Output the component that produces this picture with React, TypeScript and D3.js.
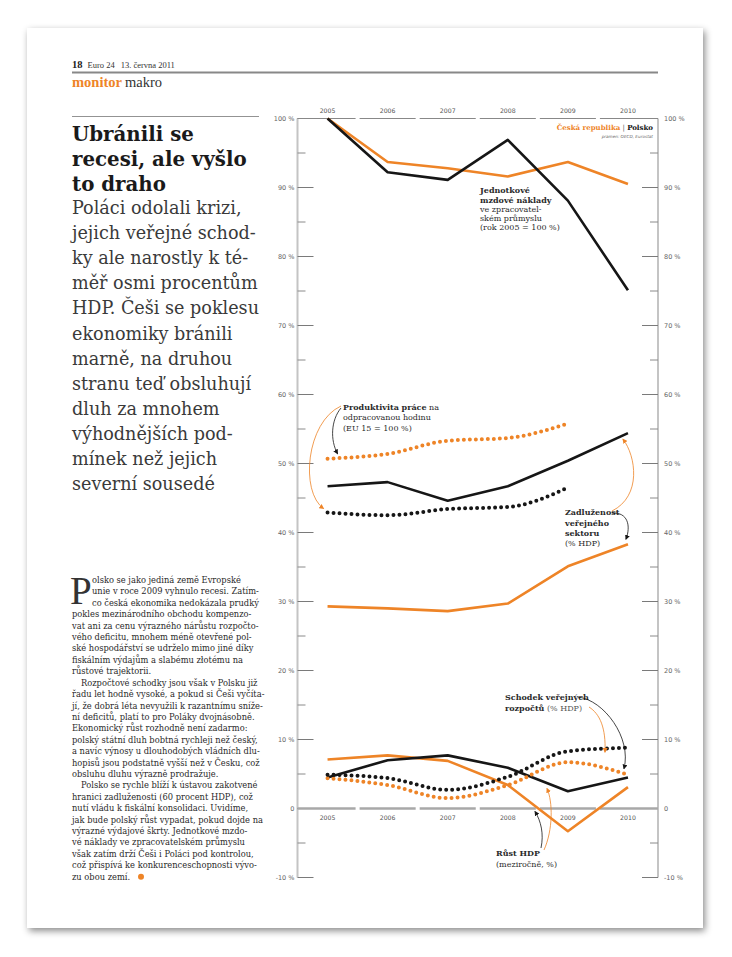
import React from "react";
import * as d3 from "d3";

// years on the x axis
const years = [2005, 2006, 2007, 2008, 2009, 2010];
const productivityYears = [2005, 2006, 2007, 2008, 2009];

// Jednotkové mzdové náklady (2005 = 100 %)
const laborCostCZ = [100, 93.7, 92.8, 91.6, 93.7, 90.5];
const laborCostPL = [100, 92.2, 91.1, 96.9, 88.1, 75.1];

// Produktivita práce (EU 15 = 100 %)
const productivityCZ = [50.7, 51.4, 53.3, 53.7, 55.8];
const productivityPL = [42.9, 42.5, 43.4, 43.7, 46.5];

// Zadluženost veřejného sektoru (% HDP)
const debtCZ = [29.3, 29.0, 28.6, 29.7, 35.1, 38.3];
const debtPL = [46.7, 47.3, 44.6, 46.7, 50.4, 54.4];

// Schodek veřejných rozpočtů (% HDP)
const deficitCZ = [4.4, 3.4, 1.5, 3.4, 6.7, 4.9];
const deficitPL = [4.9, 4.4, 2.7, 4.6, 8.3, 8.8];

// Růst HDP (meziročně, %)
const gdpCZ = [7.1, 7.7, 6.9, 3.4, -3.3, 3.1];
const gdpPL = [4.5, 7.0, 7.7, 5.9, 2.5, 4.5];

const majorTicks = [-10, 0, 10, 20, 30, 40, 50, 60, 70, 80, 90, 100];
const minorTicks = [-5, 5, 15, 25, 35, 45, 55, 65, 75, 85, 95];

const headline = ["Ubránili se", "recesi, ale vyšlo", "to draho"];
const standfirst = [
  "Poláci odolali krizi,",
  "jejich veřejné schod-",
  "ky ale narostly k té-",
  "měř osmi procentům",
  "HDP. Češi se poklesu",
  "ekonomiky bránili",
  "marně, na druhou",
  "stranu teď obsluhují",
  "dluh za mnohem",
  "výhodnějších pod-",
  "mínek než jejich",
  "severní sousedé",
];
const bodyLines = [
  "olsko se jako jediná země Evropské",
  "unie v roce 2009 vyhnulo recesi. Zatím-",
  "co česká ekonomika nedokázala prudký",
  "pokles mezinárodního obchodu kompenzo-",
  "vat ani za cenu výrazného nárůstu rozpočto-",
  "vého deficitu, mnohem méně otevřené pol-",
  "ské hospodářství se udrželo mimo jiné díky",
  "fiskálním výdajům a slabému złotému na",
  "růstové trajektorii.",
  "Rozpočtové schodky jsou však v Polsku již",
  "řadu let hodně vysoké, a pokud si Češi vyčíta-",
  "jí, že dobrá léta nevyužili k razantnímu sníže-",
  "ní deficitů, platí to pro Poláky dvojnásobně.",
  "Ekonomický růst rozhodně není zadarmo:",
  "polský státní dluh bobtná rychleji než český,",
  "a navíc výnosy u dlouhodobých vládních dlu-",
  "hopisů jsou podstatně vyšší než v Česku, což",
  "obsluhu dluhu výrazně prodražuje.",
  "Polsko se rychle blíží k ústavou zakotvené",
  "hranici zadluženosti (60 procent HDP), což",
  "nutí vládu k fiskální konsolidaci. Uvidíme,",
  "jak bude polský růst vypadat, pokud dojde na",
  "výrazné výdajové škrty. Jednotkové mzdo-",
  "vé náklady ve zpracovatelském průmyslu",
  "však zatím drží Češi i Poláci pod kontrolou,",
  "což přispívá ke konkurenceschopnosti vývo-",
  "zu obou zemí.",
];
const indentedLines = [9, 18];

const ORANGE = "#ee8427";
const BLACK = "#161616";
const SERIF = "'DejaVu Serif', serif";
const HEAD = "'Liberation Serif', serif";
const SANS = "'DejaVu Sans', sans-serif";

export default function App() {
  const axisL = 297.5;
  const axisR = 658;
  const x = d3.scalePoint<number>().domain(years).range([axisL, axisR]).padding(0.5);
  const y = d3.scaleLinear().domain([-10, 100]).range([877.5, 118.5]);
  const step = x.step();
  const px = (yr: number) => x(yr) as number;

  const straight = (yrs: number[]) =>
    d3.line<number>().x((_, i) => px(yrs[i])).y((d) => y(d));
  const smooth = (yrs: number[]) =>
    d3.line<number>().x((_, i) => px(yrs[i])).y((d) => y(d)).curve(d3.curveMonotoneX);

  const solid = [
    { d: laborCostCZ, c: ORANGE },
    { d: laborCostPL, c: BLACK },
    { d: debtCZ, c: ORANGE },
    { d: debtPL, c: BLACK },
    { d: gdpCZ, c: ORANGE },
    { d: gdpPL, c: BLACK },
  ];
  const dotted = [
    { d: productivityCZ, c: ORANGE, yrs: productivityYears },
    { d: productivityPL, c: BLACK, yrs: productivityYears },
    { d: deficitCZ, c: ORANGE, yrs: years },
    { d: deficitPL, c: BLACK, yrs: years },
  ];

  const bands = years.map((yr, i) => ({
    yr,
    x0: i === 0 ? axisL : px(yr) - step / 2 + 2,
    x1: i === years.length - 1 ? axisR : px(yr) + step / 2 - 2,
  }));

  // anchor points for annotation arrows
  const x05 = px(2005);
  const x10 = px(2010);
  const arrows = [
    { c: BLACK, d: `M341,408 C331,420 330,440 ${x05 + 10},${y(50.7) - 5}` },
    { c: ORANGE, d: `M341,406 C306,422 300,492 ${x05 - 4},${y(42.9) - 4}` },
    { c: BLACK, d: `M612,513 C628,512 631,526 ${x10 - 2},${y(38.3) - 5}` },
    { c: ORANGE, d: `M612,511 C642,496 636,456 ${x10 - 5},${y(54.4) + 6}` },
    { c: BLACK, d: `M578,697 C604,700 632,738 ${x10 - 4},${y(4.9) - 6}` },
    { c: ORANGE, d: `M589,707 C600,714 606,728 605,${y(8.6) + 3}` },
    { c: BLACK, d: `M541,848 C544,834 541,821 535,${y(0) + 3}` },
    { c: ORANGE, d: `M544,850 C553,830 553,802 547,${y(3.2) + 2}` },
  ];

  const fmt = (v: number) => (v === 0 ? "0" : `${v} %`);
  const bodyY0 = 583;
  const bodyLH = 11.41;

  return (
    <svg
      width={732}
      height={957}
      viewBox="0 0 732 957"
      style={{ position: "absolute", left: 0, top: 0, background: "#fff" }}
    >
      <defs>
        <filter id="shadow" x="-5%" y="-5%" width="110%" height="110%">
          <feDropShadow dx="2" dy="3" stdDeviation="3.5" floodColor="#000" floodOpacity="0.45" />
        </filter>
        {[
          ["ahB", BLACK],
          ["ahO", ORANGE],
        ].map(([id, c]) => (
          <marker
            key={id}
            id={id}
            viewBox="0 0 6 6"
            refX="5"
            refY="3"
            markerWidth="5"
            markerHeight="5"
            markerUnits="userSpaceOnUse"
            orient="auto"
          >
            <path d="M0,0 L6,3 L0,6 z" fill={c} />
          </marker>
        ))}
      </defs>

      {/* page */}
      <rect x={27} y={28} width={676} height={900} fill="#fff" filter="url(#shadow)" />

      {/* page header */}
      <text x={72} y={68} fontFamily={HEAD} fontSize={10.5} fontWeight="bold" fill="#222">
        18
        <tspan dx={5} fontWeight="normal" fontSize={8.5} fill="#333">Euro 24</tspan>
        <tspan dx={6} fontWeight="normal" fontSize={8.5} fill="#333">13. června 2011</tspan>
      </text>
      <line x1={72} x2={658} y1={72.5} y2={72.5} stroke="#888" strokeWidth={2} />
      <text x={72} y={87} fontFamily={HEAD} fontSize={14.5} fill="#333">
        <tspan fontWeight="bold" fill={ORANGE}>monitor</tspan>
        <tspan dx={3}>makro</tspan>
      </text>

      {/* left column */}
      <line x1={72} x2={259} y1={116.5} y2={116.5} stroke="#777" strokeWidth={0.8} />
      {headline.map((t, i) => (
        <text key={t} x={72} y={141 + i * 25} fontFamily={SERIF} fontSize={19.8} fontWeight="bold" fill="#1a1a1a">
          {t}
        </text>
      ))}
      {standfirst.map((t, i) => (
        <text key={t} x={72} y={214 + i * 25.1} fontFamily={SERIF} fontSize={17.6} fill="#3a3a3a">
          {t}
        </text>
      ))}
      <text x={70} y={604} fontFamily={HEAD} fontSize={39} fill="#333">P</text>
      {bodyLines.map((t, i) => (
        <text
          key={i}
          x={i < 3 ? 92 : indentedLines.includes(i) ? 81 : 72}
          y={bodyY0 + i * bodyLH}
          fontFamily={SERIF}
          fontSize={8.3}
          fill="#2a2a2a"
        >
          {t}
        </text>
      ))}
      <circle cx={141} cy={bodyY0 + (bodyLines.length - 1) * bodyLH - 3} r={3} fill={ORANGE} />

      {/* axes */}
      <line x1={axisL} x2={axisL} y1={y(100)} y2={y(-10)} stroke="#c4c4c4" strokeWidth={2} />
      <line x1={axisR} x2={axisR} y1={y(100)} y2={y(-10)} stroke="#c4c4c4" strokeWidth={2} />
      {majorTicks.map((v) => (
        <g key={`M${v}`}>
          <line x1={axisL} x2={axisL + 16} y1={y(v)} y2={y(v)} stroke="#7a7a7a" strokeWidth={1} />
          <line x1={axisR - 16} x2={axisR} y1={y(v)} y2={y(v)} stroke="#7a7a7a" strokeWidth={1} />
          <text x={axisL - 3} y={y(v) + 2.3} textAnchor="end" fontFamily={SANS} fontSize={6.5} fill="#666">
            {fmt(v)}
          </text>
          <text x={axisR + 6} y={y(v) + 2.3} fontFamily={SANS} fontSize={6.5} fill="#666">
            {fmt(v)}
          </text>
        </g>
      ))}
      {minorTicks.map((v) => (
        <g key={`m${v}`}>
          <line x1={axisL} x2={axisL + 8} y1={y(v)} y2={y(v)} stroke="#8a8a8a" strokeWidth={1} />
          <line x1={axisR - 8} x2={axisR} y1={y(v)} y2={y(v)} stroke="#8a8a8a" strokeWidth={1} />
        </g>
      ))}

      {/* year bands: top and zero line */}
      {bands.map((b) => (
        <g key={b.yr}>
          <line x1={b.x0} x2={b.x1} y1={y(100)} y2={y(100)} stroke="#888" strokeWidth={1} />
          <text x={px(b.yr)} y={y(100) - 5.5} textAnchor="middle" fontFamily={SANS} fontSize={6.2} fill="#555">
            {b.yr}
          </text>
          <line x1={b.x0} x2={b.x1} y1={y(0)} y2={y(0)} stroke="#a8a8a8" strokeWidth={2.5} />
          <text x={px(b.yr)} y={y(0) + 11} textAnchor="middle" fontFamily={SANS} fontSize={6.2} fill="#555">
            {b.yr}
          </text>
        </g>
      ))}

      {/* series */}
      {solid.map((s, i) => (
        <path
          key={`s${i}`}
          d={straight(years)(s.d) as string}
          fill="none"
          stroke={s.c}
          strokeWidth={2.6}
          strokeLinejoin="round"
        />
      ))}
      {dotted.map((s, i) => (
        <path
          key={`d${i}`}
          d={smooth(s.yrs)(s.d) as string}
          fill="none"
          stroke={s.c}
          strokeWidth={4}
          strokeLinecap="round"
          strokeDasharray="0 6"
        />
      ))}

      {/* legend */}
      <text x={653} y={129.5} textAnchor="end" fontFamily={SERIF} fontSize={7} fontWeight="bold">
        <tspan fill={ORANGE}>Česká republika</tspan>
        <tspan fill="#555" fontWeight="normal"> | </tspan>
        <tspan fill={BLACK}>Polsko</tspan>
      </text>
      <text x={653} y={137.5} textAnchor="end" fontFamily={SANS} fontSize={4.2} fontStyle="italic" fill="#666">
        pramen: OECD, Eurostat
      </text>

      {/* annotations */}
      <g fontFamily={SERIF} fontSize={8} fill="#2a2a2a">
        <text x={480} y={193} fontWeight="bold">Jednotkové</text>
        <text x={480} y={203} fontWeight="bold">mzdové náklady</text>
        <text x={480} y={211.5}>ve zpracovatel-</text>
        <text x={480} y={220.5}>ském průmyslu</text>
        <text x={480} y={230}>(rok 2005 = 100  %)</text>

        <text x={343} y={410}>
          <tspan fontWeight="bold">Produktivita práce</tspan> na
        </text>
        <text x={343} y={420}>odpracovanou hodinu</text>
        <text x={343} y={430.5}>(EU 15 = 100  %)</text>

        <text x={565} y={515} fontWeight="bold">Zadluženost</text>
        <text x={565} y={525.5} fontWeight="bold">veřejného</text>
        <text x={565} y={536} fontWeight="bold">sektoru</text>
        <text x={565} y={546}>(% HDP)</text>

        <text x={505} y={700} fontWeight="bold">Schodek veřejných</text>
        <text x={505} y={711}>
          <tspan fontWeight="bold">rozpočtů</tspan>
          <tspan fill="#555"> (% HDP)</tspan>
        </text>

        <text x={496} y={856} fontWeight="bold">Růst HDP</text>
        <text x={496} y={866.5}>(meziročně, %)</text>
      </g>
      {arrows.map((a, i) => (
        <path
          key={`a${i}`}
          d={a.d}
          fill="none"
          stroke={a.c}
          strokeWidth={0.8}
          markerEnd={`url(#${a.c === BLACK ? "ahB" : "ahO"})`}
        />
      ))}
    </svg>
  );
}
